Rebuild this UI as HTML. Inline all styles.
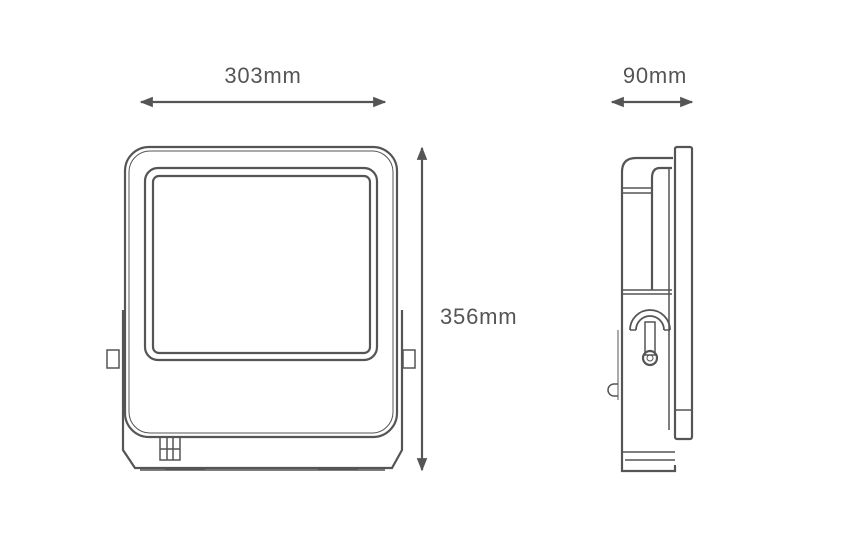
<!DOCTYPE html>
<html><head><style>
html,body{margin:0;padding:0;background:#fff;width:850px;height:544px;overflow:hidden}
text{font-family:"Liberation Sans",sans-serif;fill:#555;font-size:22px;letter-spacing:0.8px}
</style></head><body>
<svg width="850" height="544" viewBox="0 0 850 544" xmlns="http://www.w3.org/2000/svg">
<defs>
<marker id="a" viewBox="0 0 10 10" refX="9" refY="5" markerWidth="6" markerHeight="6" orient="auto-start-reverse"><path d="M0,1 L10,5 L0,9 z" fill="#555"/></marker>
</defs>
<g stroke="#555" stroke-width="2.2" fill="none" marker-start="url(#a)" marker-end="url(#a)">
<line x1="141" y1="102" x2="385" y2="102"/>
<line x1="612" y1="102" x2="692" y2="102"/>
<line x1="422" y1="148" x2="422" y2="470"/>
</g>
<text x="263" y="83" text-anchor="middle">303mm</text>
<text x="655" y="83" text-anchor="middle">90mm</text>
<text x="440" y="324">356mm</text>
<g stroke="#555" fill="none" stroke-width="2.2">
<!-- front view -->
<path d="M123,310 V450 L135,468 H392 L402,450 V310"/>
<line x1="140" y1="470" x2="385" y2="470" stroke-width="1.5"/>
<rect x="125" y="147" width="272" height="290" rx="24"/>
<rect x="129" y="151" width="264" height="282" rx="21" stroke-width="1"/>
<rect x="145" y="168" width="232" height="192" rx="13"/>
<rect x="153" y="176" width="217" height="177" rx="6"/>
<rect x="107" y="350" width="12" height="18" stroke-width="1.5"/>
<rect x="403" y="350" width="12" height="18" stroke-width="1.5"/>
<path d="M160,438 V460 H180 V438 M160,449 H180 M167,438 V460 M173,438 V460" stroke-width="1.5"/>
<line x1="165" y1="469" x2="205" y2="469" stroke-width="3"/>
<line x1="318" y1="469" x2="358" y2="469" stroke-width="3"/>
<!-- side view -->
<rect x="675" y="147" width="17" height="292" rx="2"/>
<path d="M673,158 H636 Q622,158 622,172 V471 H675 V465"/>
<path d="M672,168 H660 Q652,168 652,178 V290"/>
<line x1="622" y1="188" x2="652" y2="188" stroke-width="1.5"/>
<line x1="622" y1="193" x2="652" y2="193" stroke-width="1.5"/>
<line x1="622" y1="290" x2="672" y2="290" stroke-width="1.5"/>
<line x1="622" y1="294" x2="672" y2="294" stroke-width="1.5"/>
<line x1="669" y1="168" x2="669" y2="430" stroke-width="1.5"/>
<line x1="622" y1="452" x2="675" y2="452" stroke-width="1.5"/>
<line x1="625" y1="460" x2="675" y2="460" stroke-width="1.5"/>
<path d="M630,330 A20,20 0 0 1 670,330" stroke-width="1.8"/>
<path d="M636,330 A14,14 0 0 1 664,330" stroke-width="1.8"/>
<path d="M630,330 h6 M664,330 h6" stroke-width="1.5"/>
<path d="M645,322 L655,322 L655,355 L645,355 Z" stroke-width="1.5"/>
<circle cx="650" cy="358" r="7" stroke-width="2.2"/>
<circle cx="650" cy="358" r="3" stroke-width="1"/>
<path d="M618,384 h-4 a6,6 0 0 0 0,12 h4" stroke-width="1.5"/>
<line x1="618" y1="330" x2="618" y2="400" stroke-width="1"/>
<line x1="675" y1="410" x2="692" y2="410" stroke-width="1.5"/>
</g>
</svg>
</body></html>
